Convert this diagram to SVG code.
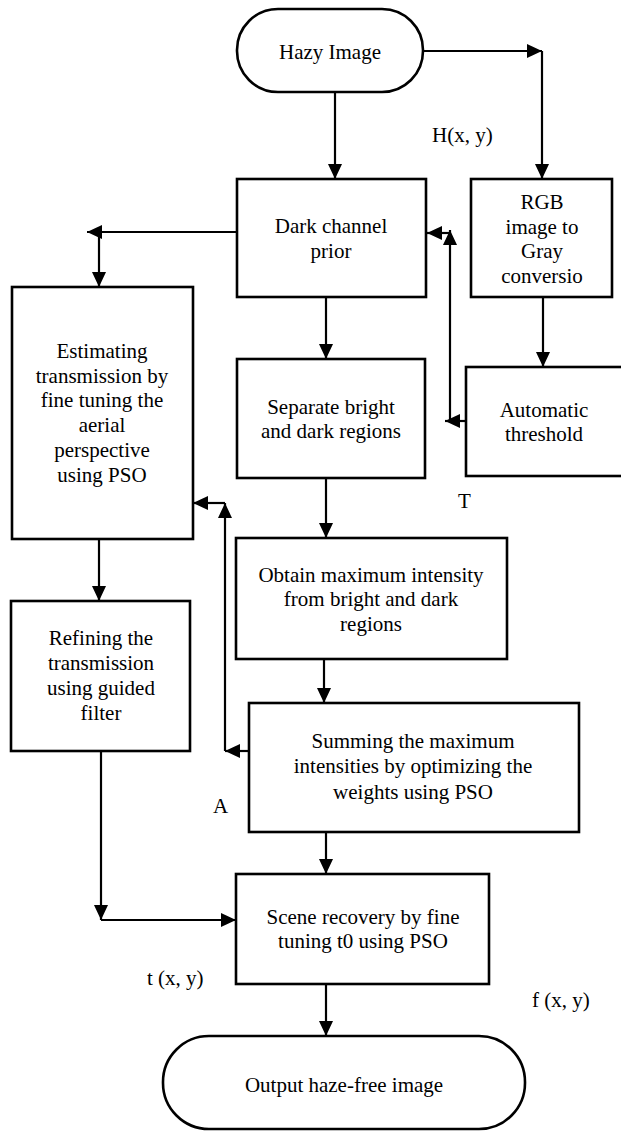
<svg xmlns="http://www.w3.org/2000/svg" width="621" height="1131" viewBox="0 0 621 1131" font-family="'Liberation Serif', 'Times New Roman', serif" font-size="21">
<style>
.box{fill:#fff;stroke:#000;stroke-width:2.6}
.ln{fill:none;stroke:#000;stroke-width:2.2}
.ar{marker-end:url(#ah)}
.t{font-family:'Liberation Serif','Times New Roman',serif;font-size:21px;fill:#000}
.c{text-anchor:middle}
</style>
<defs>
<marker id="ah" viewBox="0 0 15 14" refX="15" refY="7" markerWidth="15" markerHeight="14" markerUnits="userSpaceOnUse" orient="auto">
<path d="M0,0 L15,7 L0,14 Z" fill="#000"/>
</marker>
</defs>
<g id="connectors">
<path class="ln ar" d="M335,92 V179"/>
<path class="ln ar" d="M423,51 H542"/>
<path class="ln ar" d="M542,51 V179"/>
<path class="ln ar" d="M543,297 V367"/>
<path class="ln ar" d="M237,232 H87"/>
<path class="ln ar" d="M99,232 V287"/>
<path class="ln ar" d="M99,539 V601"/>
<path class="ln ar" d="M101,751 V920"/>
<path class="ln ar" d="M101,920 H236"/>
<path class="ln ar" d="M326,297 V359"/>
<path class="ln ar" d="M326,478 V538"/>
<path class="ln ar" d="M324,659 V703"/>
<path class="ln ar" d="M326,832 V874"/>
<path class="ln ar" d="M326,984 V1036"/>
<path class="ln ar" d="M466,421 H445"/>
<path class="ln ar" d="M450,421 V230"/>
<path class="ln ar" d="M450,233 H427"/>
<path class="ln ar" d="M249,751 H225"/>
<path class="ln ar" d="M225,751 V503"/>
<path class="ln ar" d="M225,503 H193"/>
</g>
<g id="hazy">
<rect class="box" x="237" y="9" width="186" height="83" rx="41" ry="41"/>
<text class="t c" x="330" y="59">Hazy Image</text>
</g>
<g id="dark">
<rect class="box" x="237" y="179" width="189" height="118"/>
<text class="t c" x="331" y="233">Dark channel</text>
<text class="t c" x="331" y="258">prior</text>
</g>
<g id="rgb">
<rect class="box" x="471" y="179" width="141" height="118"/>
<text class="t c" x="542" y="209">RGB</text>
<text class="t c" x="542" y="233.5">image to</text>
<text class="t c" x="542" y="258">Gray</text>
<text class="t c" x="542" y="283">conversio</text>
</g>
<g id="auto">
<rect class="box" x="466" y="367" width="157" height="109"/>
<text class="t c" x="544" y="417">Automatic</text>
<text class="t c" x="544" y="441">threshold</text>
</g>
<g id="separate">
<rect class="box" x="237" y="359" width="188" height="119"/>
<text class="t c" x="331" y="414">Separate bright</text>
<text class="t c" x="331" y="438">and dark regions</text>
</g>
<g id="estimating">
<rect class="box" x="12" y="287" width="181" height="252"/>
<text class="t c" x="102" y="358">Estimating</text>
<text class="t c" x="102" y="383">transmission by</text>
<text class="t c" x="102" y="407">fine tuning the</text>
<text class="t c" x="102" y="432">aerial</text>
<text class="t c" x="102" y="457">perspective</text>
<text class="t c" x="102" y="482">using PSO</text>
</g>
<g id="obtain">
<rect class="box" x="236" y="538" width="271" height="121"/>
<text class="t c" x="371" y="582">Obtain maximum intensity</text>
<text class="t c" x="371" y="606">from bright and dark</text>
<text class="t c" x="371" y="631">regions</text>
</g>
<g id="refining">
<rect class="box" x="11" y="601" width="179" height="150"/>
<text class="t c" x="101" y="645">Refining the</text>
<text class="t c" x="101" y="670">transmission</text>
<text class="t c" x="101" y="695">using guided</text>
<text class="t c" x="101" y="720">filter</text>
</g>
<g id="summing">
<rect class="box" x="249" y="703" width="330" height="129"/>
<text class="t c" x="413" y="748">Summing the maximum</text>
<text class="t c" x="413" y="773">intensities by optimizing the</text>
<text class="t c" x="413" y="799">weights using PSO</text>
</g>
<g id="scene">
<rect class="box" x="236" y="874" width="253" height="110"/>
<text class="t c" x="363" y="924">Scene recovery by fine</text>
<text class="t c" x="363" y="948">tuning t0 using PSO</text>
</g>
<g id="output">
<rect class="box" x="163" y="1036" width="362" height="93" rx="46" ry="46"/>
<text class="t c" x="344" y="1092">Output haze-free image</text>
</g>
<g id="labels">
<text class="t" x="432" y="142">H(x, y)</text>
<text class="t" x="458" y="508">T</text>
<text class="t" x="213" y="813">A</text>
<text class="t" x="147" y="985">t (x, y)</text>
<text class="t" x="532" y="1007">f (x, y)</text>
</g>
</svg>
